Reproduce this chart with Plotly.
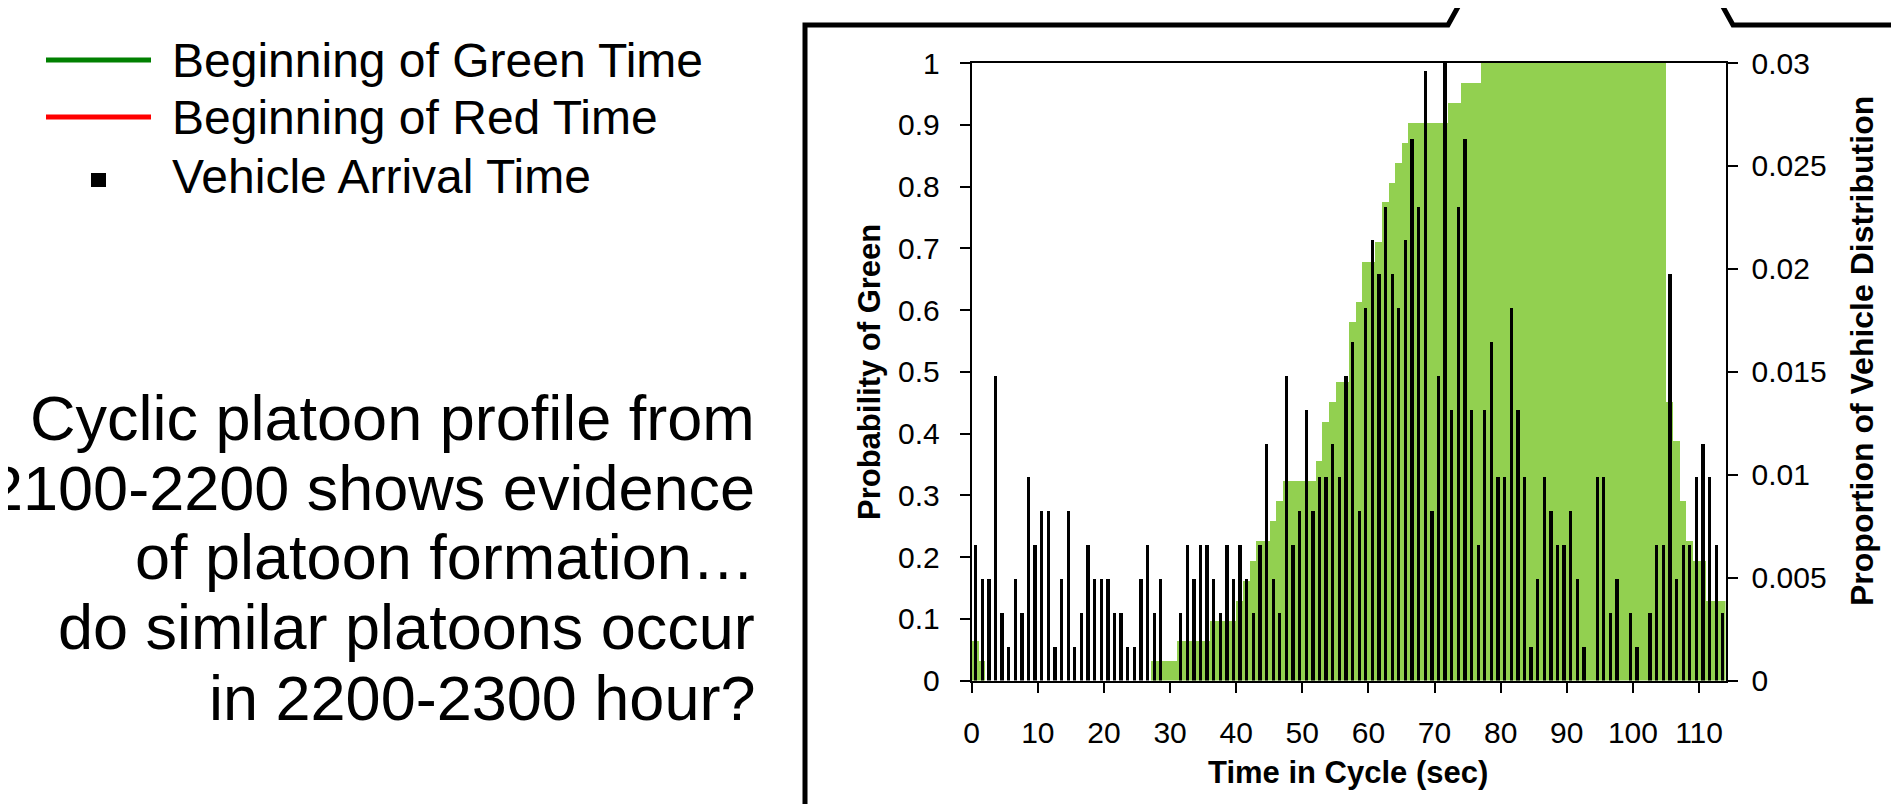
import plotly.graph_objects as go

W, H = 1899, 804
OX, OY = 8, 8  # page body margin offset of the figure

# ---------------- data ----------------
seconds = list(range(114))  # time in cycle (sec)

# cycles (out of 31) in which the signal was green at each second
n_cycles = 31
green_cycles = [
    2, 1, 0, 0, 0, 0, 0, 0, 0, 0,
    0, 0, 0, 0, 0, 0, 0, 0, 0, 0,
    0, 0, 0, 0, 0, 0, 0, 1, 1, 1,
    1, 2, 2, 2, 2, 2, 3, 3, 3, 3,
    4, 5, 6, 7, 7, 8, 9, 10, 10, 10,
    10, 10, 11, 13, 14, 15, 15, 18, 19, 21,
    21, 22, 24, 25, 26, 27, 28, 28, 28, 28,
    28, 28, 29, 29, 30, 30, 30, 31, 31, 31,
    31, 31, 31, 31, 31, 31, 31, 31, 31, 31,
    31, 31, 31, 31, 31, 31, 31, 31, 31, 31,
    31, 31, 31, 31, 31, 14, 12, 9, 7, 6,
    6, 4, 4, 4,
]

# vehicle arrivals counted at each second of the cycle
arrival_counts = [
    4, 3, 3, 9, 2, 1, 3, 2, 6, 4,
    5, 5, 1, 3, 5, 1, 2, 4, 3, 3,
    3, 2, 2, 1, 1, 3, 4, 2, 3, 0,
    0, 2, 4, 3, 4, 4, 3, 2, 4, 3,
    4, 3, 2, 4, 7, 3, 2, 9, 4, 5,
    8, 5, 6, 6, 7, 6, 9, 10, 5, 11,
    13, 12, 14, 12, 11, 13, 16, 14, 18, 5,
    9, 21, 8, 14, 16, 8, 4, 8, 10, 6,
    6, 11, 8, 6, 1, 3, 6, 5, 4, 4,
    5, 3, 1, 0, 6, 6, 2, 3, 0, 2,
    1, 0, 2, 4, 4, 12, 3, 4, 4, 6,
    7, 6, 4, 2,
]

prob_green = [g / n_cycles for g in green_cycles]
total_vehicles = sum(arrival_counts)
proportion = [c / total_vehicles for c in arrival_counts]

x_ticks = [0, 10, 20, 30, 40, 50, 60, 70, 80, 90, 100, 110]

legend_items = ["Beginning of Green Time", "Beginning of Red Time", "Vehicle Arrival Time"]
paragraph = [
    "Cyclic platoon profile from",
    "2100-2200 shows evidence",
    "of platoon formation\u2026",
    "do similar platoons occur",
    "in 2200-2300 hour?",
]

# ---------------- helpers (screen pixels -> paper) ----------------
def px(x):
    return (x - OX) / W


def py(y):
    return 1 - (y - OY) / H


FONT = "Liberation Sans, Arial, sans-serif"

fig = go.Figure()

fig.add_trace(go.Bar(
    x=seconds, y=prob_green, offset=0, width=1,
    marker=dict(color="#92D050", line=dict(width=0)),
    name="Probability of Green", yaxis="y", showlegend=False,
))
fig.add_trace(go.Bar(
    x=seconds, y=proportion, offset=0.3, width=0.5,
    marker=dict(color="#000000", line=dict(width=0)),
    name="Proportion of Vehicle Distribution", yaxis="y2", showlegend=False,
))

x0, x1 = 971.7, 1725.5
y_top, y_bot = 63.0, 680.5

axis_common = dict(
    showgrid=False, zeroline=False, showline=True, linecolor="#000000", linewidth=2,
    ticks="outside", ticklen=10, tickwidth=2, tickcolor="#000000",
    tickfont=dict(family=FONT, size=30, color="#000000"),
    automargin=False,
)

fig.update_layout(
    template="none",
    width=W, height=H, autosize=False,
    margin=dict(l=0, r=0, t=0, b=0, pad=0, autoexpand=False),
    paper_bgcolor="white", plot_bgcolor="white",
    barmode="overlay", bargap=0,
    showlegend=False,
    xaxis=dict(
        domain=[px(x0), px(x1)], range=[0, 114],
        tickmode="array", tickvals=x_ticks,
        mirror=True, ticklabelstandoff=14,
        **axis_common,
    ),
    yaxis=dict(
        domain=[py(y_bot), py(y_top)], range=[0, 1], dtick=0.1, tick0=0,
        ticklabelstandoff=14,
        **axis_common,
    ),
    yaxis2=dict(
        overlaying="y", side="right", range=[0, 0.03], dtick=0.005, tick0=0,
        ticklabelstandoff=8,
        **axis_common,
    ),
)

annotations = []
# axis titles
annotations.append(dict(text="<b>Time in Cycle (sec)</b>", x=px(1348), y=py(772), xref="paper", yref="paper",
                        showarrow=False, xanchor="center", yanchor="middle",
                        font=dict(family=FONT, size=31, color="#000000")))
annotations.append(dict(text="<b>Probability of Green</b>", x=px(869), y=py(372), xref="paper", yref="paper",
                        showarrow=False, xanchor="center", yanchor="middle", textangle=-90,
                        font=dict(family=FONT, size=31, color="#000000")))
annotations.append(dict(text="<b>Proportion of Vehicle Distribution</b>", x=px(1862), y=py(351), xref="paper", yref="paper",
                        showarrow=False, xanchor="center", yanchor="middle", textangle=-90,
                        font=dict(family=FONT, size=32, color="#000000")))

# legend text
legend_y = [60, 118, 177]
for txt, yy in zip(legend_items, legend_y):
    annotations.append(dict(text=txt, x=px(170), y=py(yy), xref="paper", yref="paper",
                            showarrow=False, xanchor="left", yanchor="middle",
                            font=dict(family=FONT, size=48, color="#000000")))

# paragraph text
para_y = [418, 488, 557, 627, 698]
for txt, yy in zip(paragraph, para_y):
    annotations.append(dict(text=txt, x=px(757), y=py(yy), xref="paper", yref="paper",
                            showarrow=False, xanchor="right", yanchor="middle", align="right",
                            font=dict(family=FONT, size=63, color="#000000")))

fig.update_layout(annotations=annotations)

shapes = []
# legend symbols
shapes.append(dict(type="line", xref="paper", yref="paper", x0=px(46), x1=px(151), y0=py(60), y1=py(60),
                   line=dict(color="#008000", width=5)))
shapes.append(dict(type="line", xref="paper", yref="paper", x0=px(46), x1=px(151), y0=py(117), y1=py(117),
                   line=dict(color="#FF0000", width=5)))
shapes.append(dict(type="rect", xref="paper", yref="paper", x0=px(91), x1=px(106), y0=py(187), y1=py(173),
                   fillcolor="#000000", line=dict(width=0)))

# slide callout frame
frame_left = "M {} {} L {} {} L {} {} L {} {}".format(
    px(805), py(815), px(805), py(25), px(1448), py(25), px(1464), py(-4))
frame_right = "M {} {} L {} {} L {} {}".format(
    px(1717), py(-4), px(1733), py(25), px(1910), py(25))
shapes.append(dict(type="path", xref="paper", yref="paper", path=frame_left,
                   line=dict(color="#000000", width=5)))
shapes.append(dict(type="path", xref="paper", yref="paper", path=frame_right,
                   line=dict(color="#000000", width=5)))

fig.update_layout(shapes=shapes)

fig.write_html("out.html")
